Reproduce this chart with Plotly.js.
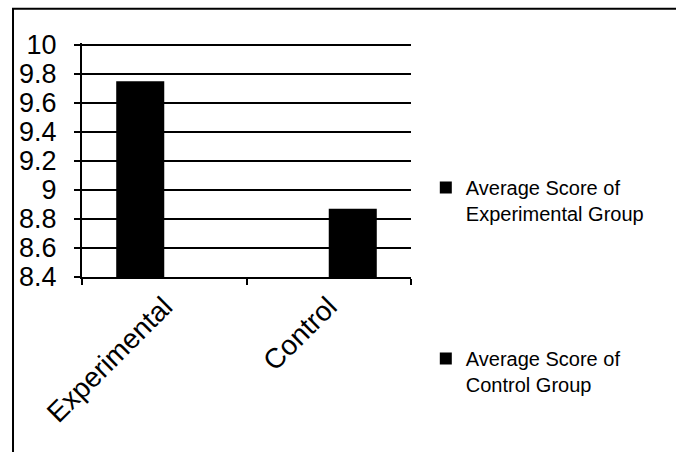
<!DOCTYPE html>
<html>
<head>
<meta charset="utf-8">
<script src="https://cdn.plot.ly/plotly-3.0.1.min.js"></script>
<style>html,body{margin:0;padding:0;background:#fff;}#chart{width:676px;height:452px;}</style>
</head>
<body>
<div id="chart"></div>
<script>
var categories = ['Experimental', 'Control'];
var experimentalScores = [9.75, null];
var controlScores = [null, 8.87];
var seriesNames = ['Average Score of<br>Experimental Group', 'Average Score of<br>Control Group'];
var yTicks = [8.4, 8.6, 8.8, 9, 9.2, 9.4, 9.6, 9.8, 10];

var FONT = 'Liberation Sans, Arial, sans-serif';

var traces = [
  {type: 'bar', x: categories, y: experimentalScores, name: seriesNames[0],
   legendgroup: 'a', marker: {color: '#000000'}},
  {type: 'bar', x: categories, y: controlScores, name: seriesNames[1],
   legendgroup: 'b', marker: {color: '#000000'}}
];

var layout = {
  width: 676, height: 452,
  margin: {l: 82, r: 265, t: 43, b: 175},
  paper_bgcolor: '#ffffff', plot_bgcolor: '#ffffff',
  font: {family: FONT, color: '#000000'},
  barmode: 'group', bargap: 0.416, bargroupgap: 0,
  showlegend: true,
  legend: {x: 1.045, y: 0.466, xanchor: 'left', yanchor: 'top',
    font: {family: FONT, size: 20, color: '#000'},
    tracegroupgap: 116, traceorder: 'grouped', valign: 'top',
    bgcolor: 'rgba(0,0,0,0)'},
  xaxis: {type: 'category', tickangle: -45, tickson: 'boundaries',
    ticks: 'outside', ticklen: 6, tickwidth: 2, tickcolor: '#000',
    showline: true, linecolor: '#000', linewidth: 2, showgrid: false,
    tickfont: {family: FONT, size: 28, color: '#000'}, zeroline: false},
  yaxis: {range: [8.4, 10.0138], tickvals: yTicks, ticktext: yTicks.map(String),
    ticks: 'outside', ticklen: 6, tickwidth: 2, tickcolor: '#000',
    showline: true, linecolor: '#000', linewidth: 2,
    showgrid: true, gridcolor: '#000', gridwidth: 2, zeroline: false,
    ticklabelstandoff: 12,
    tickfont: {family: FONT, size: 27, color: '#000'}},
  shapes: [{type: 'rect', xref: 'paper', yref: 'paper',
    x0: -0.2097, x1: 1.85, y0: -0.85, y1: 1.1465,
    line: {color: '#000', width: 2}, fillcolor: 'rgba(0,0,0,0)', layer: 'below'}]
};

Plotly.newPlot('chart', traces, layout, {displayModeBar: false, staticPlot: true});
</script>
</body>
</html>
